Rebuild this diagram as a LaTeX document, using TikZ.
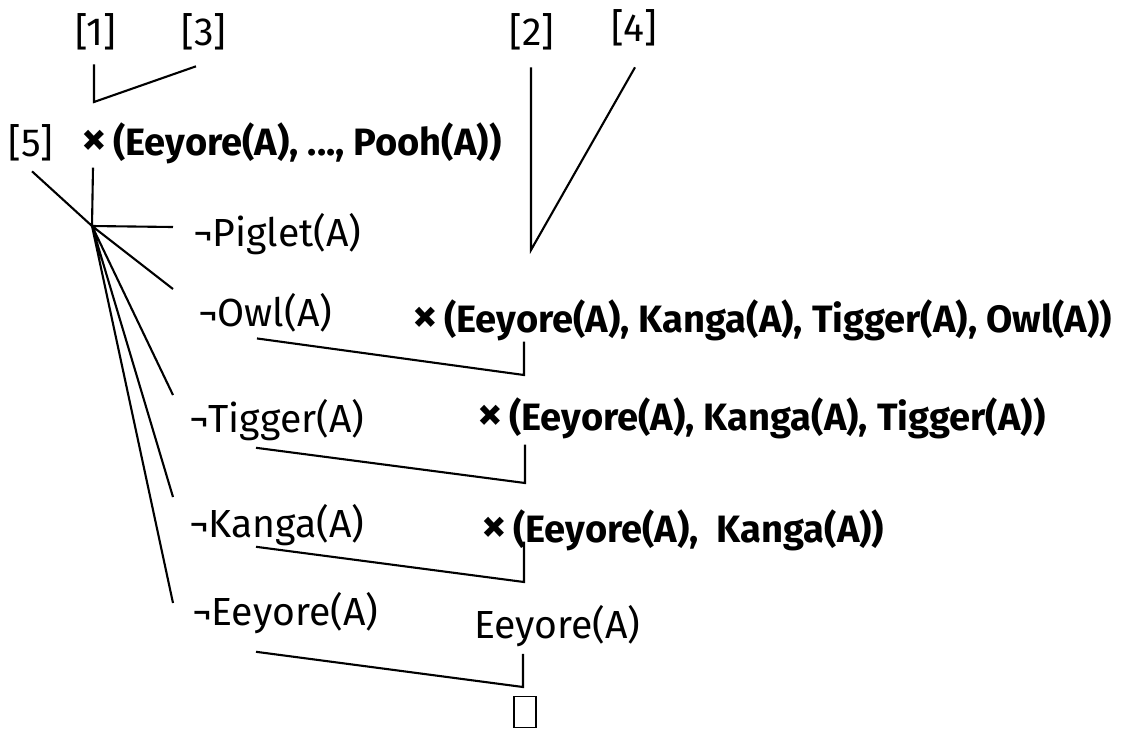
\documentclass[tikz,border=0pt]{standalone}
\usepackage{fontspec}
\setmainfont{Fira Sans}
\newcommand{\cross}{\scalebox{1.3}{×}\,}

\begin{document}
\begin{tikzpicture}[
    x = 0.02cm, y = -0.02cm,
    line width = 1.2pt,
    every node/.style = {inner sep = 0pt, font = \fontsize{22.3}{26}\selectfont},
    term/.style = {anchor = west, font = \fontsize{21.7}{25}\selectfont\bfseries},
    lit/.style = {anchor = west},
    empty clause/.style = {draw, line width = 0.9pt, minimum width = 0.44cm, minimum height = 0.62cm}]

\useasboundingbox (0,0) rectangle (1129,731);

\path (96,32) node(n1) {[1]}
      (204,32) node(n3) {[3]}
      (532,32) node(n2) {[2]}
      (634,28) node(n4) {[4]}
      (31,143) node(n5) {[5]};

\path (80,143) node[term](top) {\cross(Eeyore(A), ..., Pooh(A))}
      (192,234) node[lit](pig) {¬Piglet(A)}
      (197,313) node[lit](owl) {¬Owl(A)}
      (188,420) node[lit](tig) {¬Tigger(A)}
      (188,525) node[lit](kan) {¬Kanga(A)}
      (191,613) node[lit](eey) {¬Eeyore(A)}
      (411,320) node[term](r4) {\cross(Eeyore(A), Kanga(A), Tigger(A), Owl(A))}
      (476,418) node[term](r3) {\cross(Eeyore(A), Kanga(A), Tigger(A))}
      (480,530) node[term](r2) {\cross(Eeyore(A),\ \ Kanga(A))}
      (473,626) node[lit](r1) {Eeyore(A)}
      (525,712) node[empty clause](box) {};

\coordinate (j13) at (94,102);
\coordinate (j24) at (531,250);
\coordinate (hub) at (92,226);
\coordinate (jo) at (524,375);
\coordinate (jt) at (525,483);
\coordinate (jk) at (524,582);
\coordinate (je) at (523,687);

% steps at the top
\draw ([shift={(-2,13)}]n1.south) -- (j13) -- ([shift={(-8,15)}]n3.south);
\draw ([shift={(-1,16)}]n2.south) -- (j24) -- ([shift={(1,20)}]n4.south);

% the fan under the top clause
\draw ([shift={(1,9)}]n5.south) -- (hub)
      ([shift={(13,3)}]top.south west) -- (hub)
      (hub) -- ([shift={(-19,-7)}]pig.west)
      (hub) -- ([shift={(-24,-24)}]owl.west)
      (hub) -- ([shift={(-15,-25)}]tig.west)
      (hub) -- ([shift={(-15,-28)}]kan.west)
      (hub) -- ([shift={(-18,-10)}]eey.west);

% resolution steps
\draw ([shift={(60,5)}]owl.south west) -- (jo) -- ([shift={(113,0)}]r4.south west);
\draw ([shift={(68,6)}]tig.south west) -- (jt) -- ([shift={(49,5)}]r3.south west);
\draw ([shift={(68,0)}]kan.south west) -- (jk) -- ([shift={(44,-10)}]r2.south west);
\draw ([shift={(65,17)}]eey.south west) -- (je) -- ([shift={(50,6)}]r1.south west);
\end{tikzpicture}
\end{document}
